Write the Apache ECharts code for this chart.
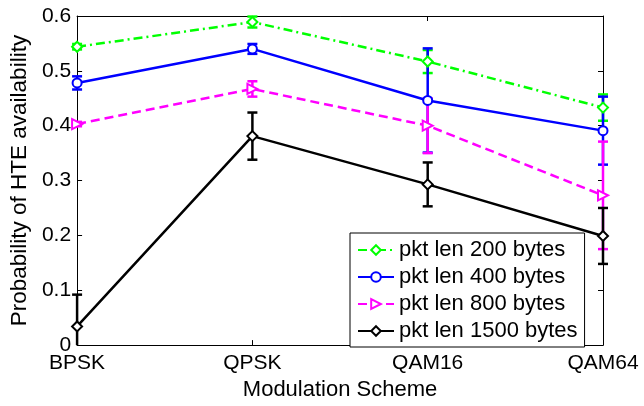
<!DOCTYPE html>
<html>
<head>
<meta charset="utf-8">
<title>Probability of HTE availability</title>
<script src="https://cdn.jsdelivr.net/npm/echarts@6/dist/echarts.min.js"></script>
<style>
  html, body { margin: 0; padding: 0; background: #fff; }
  #chart { width: 644px; height: 406px; }
</style>
</head>
<body>
<div id="chart"></div>
<script>
// Modulation schemes along the x axis
const categories = ['BPSK', 'QPSK', 'QAM16', 'QAM64'];

// Mean probability and error half-width per packet length
const len200 = [0.544, 0.589, 0.517, 0.433];
const err200 = [0.005, 0.010, 0.021, 0.024];
const len400 = [0.478, 0.540, 0.446, 0.391];
const err400 = [0.012, 0.009, 0.095, 0.062];
const len800 = [0.403, 0.467, 0.400, 0.273];
const err800 = [0.004, 0.014, 0.050, 0.098];
const len1500 = [0.034, 0.381, 0.293, 0.199];
const err1500 = [0.058, 0.043, 0.040, 0.051];

// Y axis range and ticks
const Y_MIN = 0;
const Y_MAX = 0.6;
const Y_STEP = 0.1;

const FONT = "'Liberation Sans', Arial, Helvetica, sans-serif";

const groups = [
  { name: 'pkt len 200 bytes', mean: len200, err: err200, color: '#00ff00',
    dash: [9, 4, 2, 4], symbol: 'emptyDiamond', rotate: 0, size: 10 },
  { name: 'pkt len 400 bytes', mean: len400, err: err400, color: '#0000ff',
    dash: 'solid', symbol: 'emptyCircle', rotate: 0, size: 9 },
  { name: 'pkt len 800 bytes', mean: len800, err: err800, color: '#ff00ff',
    dash: [9, 5], symbol: 'emptyTriangle', rotate: -90, size: 10 },
  { name: 'pkt len 1500 bytes', mean: len1500, err: err1500, color: '#000000',
    dash: 'solid', symbol: 'emptyDiamond', rotate: 0, size: 10 }
];

// Vertical error bar with caps, clamped to the bottom of the value axis
function errorBarRenderer(color) {
  return function (params, api) {
    const idx = api.value(0);
    const mean = api.value(1);
    const err = api.value(2);
    const hiVal = Math.min(mean + err, Y_MAX);
    const loVal = Math.max(mean - err, Y_MIN);
    const top = api.coord([idx, hiVal]);
    const bot = api.coord([idx, loVal]);
    const half = 5;
    const style = { stroke: color, lineWidth: 2.5 };
    const children = [
      { type: 'line', shape: { x1: top[0], y1: top[1], x2: bot[0], y2: bot[1] }, style: style }
    ];
    if (mean + err <= Y_MAX) {
      children.push({ type: 'line', shape: { x1: top[0] - half, y1: top[1], x2: top[0] + half, y2: top[1] }, style: style });
    }
    if (mean - err >= Y_MIN) {
      children.push({ type: 'line', shape: { x1: bot[0] - half, y1: bot[1], x2: bot[0] + half, y2: bot[1] }, style: style });
    }
    return { type: 'group', children: children };
  };
}

const series = [];
groups.forEach(function (g) {
  series.push({
    type: 'custom',
    name: g.name + ' (error)',
    xAxisIndex: 0,
    yAxisIndex: 0,
    renderItem: errorBarRenderer(g.color),
    data: g.mean.map(function (v, i) { return [i, v, g.err[i]]; }),
    silent: true,
    animation: false
  });
  series.push({
    type: 'line',
    name: g.name,
    xAxisIndex: 0,
    yAxisIndex: 0,
    data: g.mean,
    symbol: g.symbol,
    symbolSize: g.size,
    symbolRotate: g.rotate,
    showAllSymbol: true,
    color: g.color,
    lineStyle: { color: g.color, width: 2.5, type: g.dash },
    itemStyle: { color: g.color, borderColor: g.color, borderWidth: 2.5 },
    animation: false
  });
});

const tickStyle = { show: true, inside: true, length: 5, lineStyle: { color: '#000', width: 1 } };
const lineStyleAxis = { show: true, onZero: false, lineStyle: { color: '#000', width: 1 } };

const option = {
  backgroundColor: '#fff',
  textStyle: { fontFamily: FONT },
  grid: { left: 76, right: 41, top: 16, bottom: 55, containLabel: false },
  legend: {
    data: groups.map(function (g) { return g.name; }),
    orient: 'vertical',
    left: 350,
    top: 233,
    padding: [6, 7, 5, 7],
    itemWidth: 36,
    itemHeight: 12,
    itemGap: 5,
    backgroundColor: '#fff',
    borderColor: '#000',
    borderWidth: 1,
    borderRadius: 0,
    textStyle: { fontSize: 22, color: '#000', fontFamily: FONT, padding: [0, 0, 0, 0] },
    selectedMode: false
  },
  xAxis: [
    {
      type: 'category',
      data: categories,
      position: 'bottom',
      boundaryGap: false,
      axisLine: lineStyleAxis,
      axisTick: Object.assign({ alignWithLabel: true }, tickStyle),
      axisLabel: { fontSize: 21, color: '#000', margin: 8, fontFamily: FONT },
      splitLine: { show: false },
      name: 'Modulation Scheme',
      nameLocation: 'middle',
      nameGap: 28,
      nameTextStyle: { fontSize: 22, color: '#000', fontFamily: FONT }
    },
    {
      type: 'category',
      data: categories,
      position: 'top',
      boundaryGap: false,
      axisLine: lineStyleAxis,
      axisTick: Object.assign({ alignWithLabel: true }, tickStyle),
      axisLabel: { show: false },
      splitLine: { show: false }
    }
  ],
  yAxis: [
    {
      type: 'value',
      position: 'left',
      min: Y_MIN,
      max: Y_MAX,
      interval: Y_STEP,
      axisLine: lineStyleAxis,
      axisTick: tickStyle,
      axisLabel: { fontSize: 21, color: '#000', margin: 6, fontFamily: FONT },
      splitLine: { show: false },
      name: 'Probability of HTE availability',
      nameLocation: 'middle',
      nameRotate: 90,
      nameGap: 38,
      nameTextStyle: { fontSize: 22.5, color: '#000', fontFamily: FONT }
    },
    {
      type: 'value',
      position: 'right',
      min: Y_MIN,
      max: Y_MAX,
      interval: Y_STEP,
      axisLine: lineStyleAxis,
      axisTick: tickStyle,
      axisLabel: { show: false },
      splitLine: { show: false }
    }
  ],
  series: series
};

const chart = echarts.init(document.getElementById('chart'), null, { renderer: 'canvas' });
chart.setOption(option);
</script>
</body>
</html>
